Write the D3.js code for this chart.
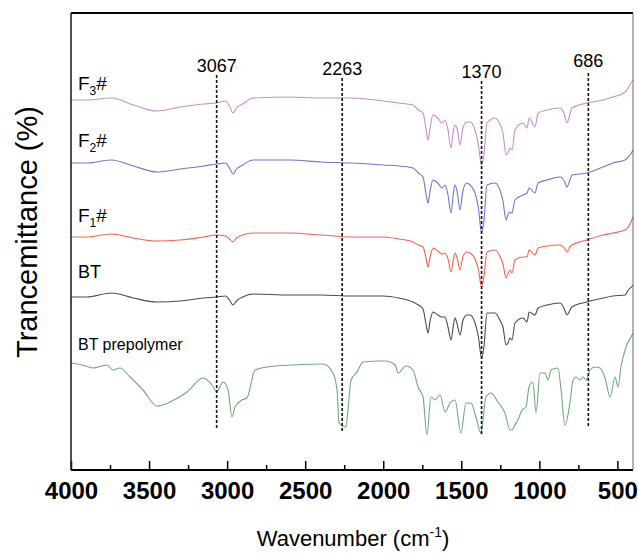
<!DOCTYPE html>
<html>
<head>
<meta charset="UTF-8">
<title>FTIR spectra</title>
<script src="https://cdn.jsdelivr.net/npm/d3@7/dist/d3.min.js"></script>
<style>
    body{margin:0;background:#fff;}
    svg text{font-family:Arial,"Liberation Sans",sans-serif;fill:#000;}
    .axis text{font-size:24px;font-weight:bold;}
    .axis line{stroke:#000;stroke-width:1.5;}
    .spec{fill:none;stroke-width:1.1;}
    .mark{stroke:#111;stroke-width:1.6;stroke-dasharray:3,2;}
</style>
</head>
<body>
<svg width="638" height="554"></svg>
<script>
// wavenumber grid (cm-1) for the cured samples
var waveCured = [4000,3900,3740,3600,3450,3300,3150,3067,3010,2985,
    2962,2940,2900,2834,2600,2400,2200,2000,1900,1809,
    1775,1745,1725,1713,1700,1681,1650,1624,1604,1585,
    1566,1550,1540,1525,1508,1490,1465,1444,1412,1390,
    1370,1355,1335,1284,1250,1233,1213,1201,1188,1175,
    1156,1105,1079,1065,1028,1008,950,867,840,823,
    800,791,695,592,528,451,430,410,400];
// relative transmittance (a.u.), each trace relative to its value at 4000
var f3 = [0,0,2,-5,-11,-7,-4,-3,-1,-6,
    -13,-8,-4,2,3,2,2,-1,-3,-5,
    -10,-13,-30,-40,-28,-15,-18,-23,-20,-30,
    -48,-30,-25,-30,-45,-28,-22,-22,-30,-45,
    -65,-55,-23,-18,-25,-33,-55,-53,-48,-50,
    -30,-23,-28,-18,-27,-13,-10,-8,-14,-23,
    -12,-8,-3,0,3,8,12,18,20];
var f2 = [0,0,3,-3,-9,-6,-3,-1,0,-5,
    -11,-6,-2,3,3,1,0,-2,-3,-5,
    -10,-14,-32,-40,-28,-17,-20,-25,-22,-32,
    -50,-30,-22,-30,-47,-28,-20,-22,-30,-45,
    -70,-58,-22,-20,-28,-38,-57,-52,-49,-50,
    -37,-32,-30,-25,-30,-20,-17,-14,-18,-24,
    -15,-12,-10,-4,0,3,6,10,13];
var f1 = [0,0,3,-1,-4,-3,0,2,1,-2,
    -5,-1,2,4,4,2,0,0,-2,-5,
    -8,-10,-22,-30,-20,-11,-14,-17,-16,-22,
    -35,-22,-16,-22,-33,-20,-15,-16,-22,-33,
    -50,-40,-15,-13,-20,-27,-41,-37,-33,-36,
    -23,-20,-20,-13,-18,-11,-9,-8,-11,-15,
    -9,-8,-3,2,4,7,10,16,20];
var bt = [0,0,4,-1,-5,-4,-1,0,1,-3,
    -8,-4,0,3,2,2,1,1,-1,-5,
    -8,-12,-28,-36,-24,-15,-18,-20,-20,-30,
    -43,-28,-21,-28,-38,-24,-18,-18,-26,-40,
    -61,-50,-16,-16,-24,-30,-48,-46,-41,-43,
    -26,-21,-25,-15,-18,-11,-8,-6,-12,-18,
    -12,-10,-5,-1,1,2,7,10,12];

// prepolymer has its own grid
var wavePre = [4000,3930,3859,3800,3770,3731,3686,3622,3539,3449,
    3366,3257,3154,3097,3067,3026,2994,2969,2949,2905,
    2873,2821,2744,2578,2386,2322,2296,2283,2258,2238,
    2226,2206,2168,2129,2020,1988,1924,1905,1854,1809,
    1777,1745,1720,1694,1668,1636,1604,1572,1540,1502,
    1470,1438,1406,1374,1342,1310,1265,1220,1188,1175,
    1156,1137,1111,1085,1066,1041,1021,996,964,944,
    925,880,861,836,804,784,765,740,720,700,
    675,643,611,579,547,515,496,477,445,413,
    400];
var prepolymer = [0,-2,-5,-3,-2,-7,-5,-14,-27,-43,
    -39,-29,-15,-22,-29,-19,-27,-54,-44,-37,
    -35,-7,-4,-2,-1,-10,-27,-60,-63,-64,
    -47,-17,-9,1,2,2,-2,-10,-3,-7,
    -24,-34,-72,-34,-37,-32,-49,-40,-37,-70,
    -40,-40,-54,-70,-34,-30,-39,-50,-67,-67,
    -62,-57,-47,-44,-24,-19,-50,-10,-10,-17,
    -7,-5,-27,-62,-40,-17,-14,-17,-14,-17,
    -7,-4,-5,-15,-34,-14,-24,-4,16,26,
    30];

var seriesNames = ["F3#", "F2#", "F1#", "BT", "BT prepolymer"];
var offsets = [370, 307, 233, 173, 107];   // stacking offset (a.u.)
var colors = ["#c98ccb", "#7474cc", "#f0644e", "#4a4a4a", "#6cab7c"];

var peaks = [3067, 2263, 1370, 686];
var xTicks = [4000, 3500, 3000, 2500, 2000, 1500, 1000, 500];
var xMinor = [3750, 3250, 2750, 2250, 1750, 1250, 750];

window.onload = function () {
    var margin = {top: 13, right: 5, bottom: 84, left: 71};
    var width = 638 - margin.left - margin.right;
    var height = 554 - margin.top - margin.bottom;
    var svg = d3.select("svg");
    var g = svg.append("g").attr("transform", "translate(" + margin.left + "," + margin.top + ")");

    var x = d3.scaleLinear().domain([4000, 400]).range([0, width]);
    var y = d3.scaleLinear().domain([0, height]).range([height, 0]);

    var traces = [
        {w: waveCured, v: f3},
        {w: waveCured, v: f2},
        {w: waveCured, v: f1},
        {w: waveCured, v: bt},
        {w: wavePre, v: prepolymer}
    ];

    var line = d3.line()
        .curve(d3.curveMonotoneX)
        .x(function (d) { return x(d[0]); })
        .y(function (d) { return y(d[1]); });

    traces.forEach(function (t, i) {
        var pts = t.w.map(function (w, k) { return [w, offsets[i] + t.v[k]]; });
        g.append("path")
            .attr("class", "spec")
            .attr("d", line(pts))
            .style("stroke", colors[i]);
    });

    // dashed peak markers
    var markTop = [395, 392, 389, 397];
    var markBottom = [41, 37, 34, 42];
    var labelLift = [3, 3, 3, 6];
    g.selectAll(".mark")
        .data(peaks)
        .enter().append("line")
        .attr("class", "mark")
        .attr("x1", function (d) { return x(d); })
        .attr("x2", function (d) { return x(d); })
        .attr("y1", function (d, i) { return y(markTop[i]); })
        .attr("y2", function (d, i) { return y(markBottom[i]); });
    g.selectAll(".peaklab")
        .data(peaks)
        .enter().append("text")
        .attr("class", "peaklab")
        .attr("x", function (d) { return x(d); })
        .attr("y", function (d, i) { return y(markTop[i]) - labelLift[i]; })
        .attr("text-anchor", "middle")
        .style("font-size", "18px")
        .text(function (d) { return d; });

    // series labels
    var labelRise = [10, 16, 15, 19, 13];
    seriesNames.forEach(function (name, i) {
        var t = g.append("text")
            .attr("x", 7)
            .attr("y", y(offsets[i]) - labelRise[i]);
        if (name.charAt(0) === "F") {
            t.style("font-size", "19px");
            t.append("tspan").text("F");
            t.append("tspan").attr("dy", 5).style("font-size", "12px").text(name.charAt(1));
            t.append("tspan").attr("dy", -5).text("#");
        } else {
            t.style("font-size", i === 3 ? "18px" : "16px").text(name);
        }
    });

    // x axis, ticks pointing inward
    var xAxis = d3.axisBottom(x).tickValues(xTicks).tickSize(-9).tickPadding(12).tickFormat(d3.format("d"));
    var ax = g.append("g").attr("class", "axis").attr("transform", "translate(0," + height + ")").call(xAxis);
    ax.select(".domain").remove();
    var axm = g.append("g").attr("class", "axis").attr("transform", "translate(0," + height + ")")
        .call(d3.axisBottom(x).tickValues(xMinor).tickSize(-5).tickFormat(""));
    axm.select(".domain").remove();

    // frame
    g.append("line").attr("x1", 0).attr("x2", width).attr("y1", 0).attr("y2", 0).style("stroke", "#000").style("stroke-width", 2);
    g.append("line").attr("x1", 0).attr("x2", width).attr("y1", height).attr("y2", height).style("stroke", "#000").style("stroke-width", 2);
    g.append("line").attr("x1", 0).attr("x2", 0).attr("y1", 0).attr("y2", height).style("stroke", "#222").style("stroke-width", 1.6);
    g.append("line").attr("x1", width).attr("x2", width).attr("y1", 0).attr("y2", height).style("stroke", "#666").style("stroke-width", 1);

    // axis titles
    var xt = svg.append("text")
        .attr("x", margin.left + width / 2 + 1)
        .attr("y", 546)
        .attr("text-anchor", "middle")
        .style("font-size", "22px");
    xt.append("tspan").text("Wavenumber (cm");
    xt.append("tspan").attr("dy", -9).style("font-size", "14px").text("-1");
    xt.append("tspan").attr("dy", 9).text(")");

    svg.append("text")
        .attr("transform", "translate(37," + 232 + ") rotate(-90)")
        .attr("text-anchor", "middle")
        .style("font-size", "29px")
        .text("Trancemittance (%)");
};
</script>
</body>
</html>
